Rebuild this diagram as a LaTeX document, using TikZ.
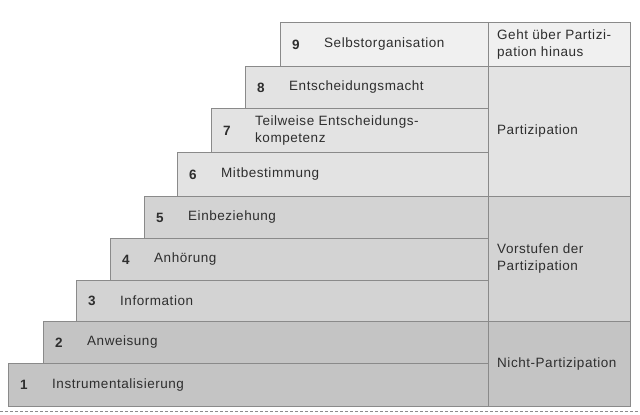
\documentclass[tikz,border=0pt]{standalone}
\usepackage{fontspec}
\setmainfont{Liberation Sans}[LetterSpace=4]
\definecolor{bord}{HTML}{8A8A8A}
\definecolor{txt}{HTML}{2E2E2E}
\definecolor{fA}{HTML}{F0F0F0}
\definecolor{fB}{HTML}{E3E3E3}
\definecolor{fC}{HTML}{D3D3D3}
\definecolor{fD}{HTML}{C4C4C4}
\begin{document}
\begin{tikzpicture}[x=1pt,y=-1pt,
  rowbox/.style={draw=bord, line width=1pt, anchor=north west, inner sep=0pt},
  num/.style={font=\fontsize{13.5}{16}\selectfont\bfseries, text=txt, inner sep=0pt},
  lab/.style={font=\fontsize{13.5}{17}\selectfont, text=txt, anchor=west, inner sep=0pt, align=left},
]
\useasboundingbox (0,0) rectangle (640,415);
% rows
\node[rowbox, fill=fA, minimum width=208pt, minimum height=44pt] (r9) at (280,22) {};
\node[rowbox, fill=fB, minimum width=243pt, minimum height=42pt] (r8) at (245,66) {};
\node[rowbox, fill=fB, minimum width=277pt, minimum height=44pt] (r7) at (211,108) {};
\node[rowbox, fill=fB, minimum width=311pt, minimum height=44pt] (r6) at (177,152) {};
\node[rowbox, fill=fC, minimum width=344pt, minimum height=42pt] (r5) at (144,196) {};
\node[rowbox, fill=fC, minimum width=378pt, minimum height=42pt] (r4) at (110,238) {};
\node[rowbox, fill=fC, minimum width=412pt, minimum height=41pt] (r3) at (76,280) {};
\node[rowbox, fill=fD, minimum width=445pt, minimum height=42pt] (r2) at (43,321) {};
\node[rowbox, fill=fD, minimum width=480pt, minimum height=43pt] (r1) at (8,363) {};
% numbers and labels
\foreach \i/\t in {9/Selbstorganisation,8/Entscheidungsmacht,7/{Teilweise Entscheidungs-\\kompetenz},6/Mitbestimmung,5/Einbeziehung,4/Anhörung,3/Information,2/Anweisung,1/Instrumentalisierung}{
  \node[num] (n\i) at ([xshift=16pt]r\i.west) {\i};
  \node[lab] (l\i) at ([xshift=44pt]r\i.west) {\t};
}
% right column
\node[rowbox, fill=fA, minimum width=142pt, minimum height=44pt] (c1) at (488,22) {};
\node[rowbox, fill=fB, minimum width=142pt, minimum height=130pt] (c2) at (488,66) {};
\node[rowbox, fill=fC, minimum width=142pt, minimum height=125pt] (c3) at (488,196) {};
\node[rowbox, fill=fD, minimum width=142pt, minimum height=85pt] (c4) at (488,321) {};
\node[lab] (t1) at ([xshift=9pt]c1.west) {Geht über Partizi-\\pation hinaus};
\node[lab] (t2) at ([xshift=9pt]c2.west) {Partizipation};
\node[lab] (t3) at ([xshift=9pt]c3.west) {Vorstufen der\\Partizipation};
\node[lab] (t4) at ([xshift=9pt]c4.west) {Nicht-Partizipation};
% bottom dashed line
\coordinate (dl) at (0,411);
\coordinate (dr) at (640,411);
\draw[bord, line width=0.8pt, dash pattern=on 3pt off 2pt] (dl) -- (dr);
\end{tikzpicture}
\end{document}
